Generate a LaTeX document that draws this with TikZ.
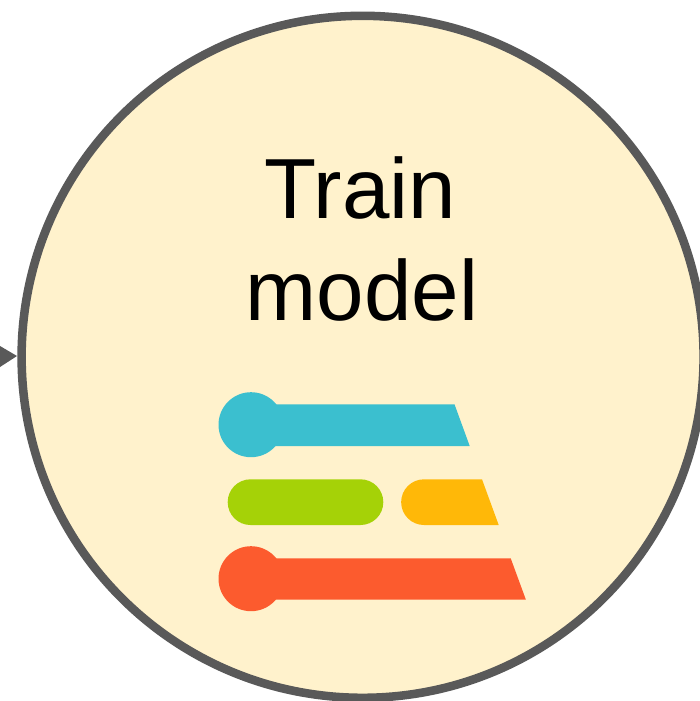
\documentclass[tikz,border=0pt]{standalone}
\usepackage{fontspec}
\setmainfont{Liberation Sans}
\definecolor{fillcream}{HTML}{FFF2CC}
\definecolor{edgegrey}{HTML}{595959}
\definecolor{barblue}{HTML}{3BBFCF}
\definecolor{bargreen}{HTML}{A5D207}
\definecolor{barorange}{HTML}{FFB808}
\definecolor{barred}{HTML}{FC5B2E}
\tikzset{
  x=0.75pt,y=-0.75pt,
  ringshape/.style={circle,draw=edgegrey,fill=fillcream,line width=6.4pt,minimum size=511.5pt,inner sep=0pt},
  bigtext/.style={font=\fontsize{64}{75}\selectfont,text=black,inner sep=0pt,anchor=base}
}
\begin{document}
\begin{tikzpicture}
\useasboundingbox (0,0) rectangle (700,701);
\clip (0,0) rectangle (700,701);
\fill[white] (0,0) rectangle (700,701);
\node[ringshape] (ring) at (362.6,356.8) {};
\coordinate (arrowtip) at (17,356);
\fill[edgegrey] (arrowtip) -- (0,346) -- (0,367) -- cycle;
\node[bigtext] (line1) at (360.5,218) {Train};
\node[bigtext] (line2) at (362,320) {model};
% blue bar
\fill[barblue] (251,424.7) circle[radius=32.5];
\fill[barblue] (251,404.3) -- (454.5,404.3) -- (469.7,446) -- (251,446) -- cycle;
% green pill
\fill[bargreen, rounded corners=17.1pt] (227.7,479.3) rectangle (383.3,525);
% orange
\fill[barorange] (424,479.3) -- (482,479.3) -- (498.7,525) -- (424,525)
  arc[start angle=90,end angle=270,radius=22.85] -- cycle;
% red bar
\fill[barred] (251,578.7) circle[radius=32.5];
\fill[barred] (251,558.3) -- (510.7,558.3) -- (525.9,599.7) -- (251,599.7) -- cycle;
\end{tikzpicture}
\end{document}
